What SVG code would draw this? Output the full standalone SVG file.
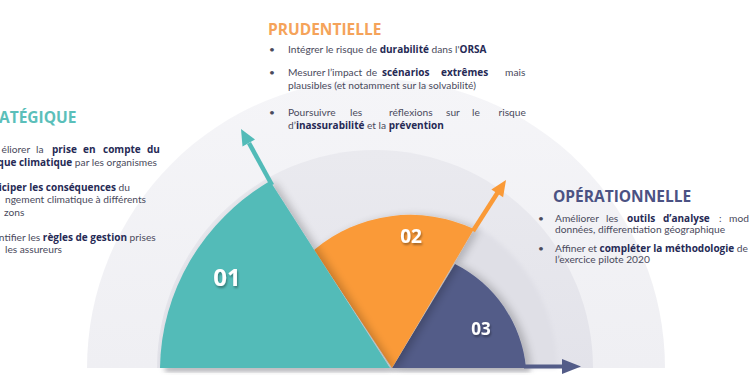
<svg xmlns="http://www.w3.org/2000/svg" width="750" height="375" viewBox="0 0 750 375">
<defs>
<style>
.t{font-family:Lato,"Open Sans","Liberation Sans",sans-serif;font-size:10.2px;fill:#4a4a5c}
.b{font-family:"Open Sans","Liberation Sans",sans-serif;font-size:10px;font-weight:bold;fill:#262a55}
.title{font-family:"Open Sans","Liberation Sans",sans-serif;font-size:15.5px;font-weight:bold}
.num{font-family:"Open Sans","Liberation Sans",sans-serif;font-weight:bold;fill:#ffffff;text-anchor:middle}
</style>
<filter id="sh" x="-20%" y="-20%" width="150%" height="140%">
<feGaussianBlur in="SourceAlpha" stdDeviation="4"/>
<feOffset dx="5" dy="1" result="o"/>
<feComponentTransfer><feFuncA type="linear" slope="0.22"/></feComponentTransfer>
<feMerge><feMergeNode/><feMergeNode in="SourceGraphic"/></feMerge>
</filter>
<filter id="tsh" x="-30%" y="-30%" width="160%" height="160%">
<feGaussianBlur in="SourceAlpha" stdDeviation="1"/>
<feOffset dx="1" dy="1.5"/>
<feComponentTransfer><feFuncA type="linear" slope="0.35"/></feComponentTransfer>
<feMerge><feMergeNode/><feMergeNode in="SourceGraphic"/></feMerge>
</filter>
<filter id="blur2"><feGaussianBlur stdDeviation="2"/></filter>
<linearGradient id="gOuter" x1="0" y1="0" x2="0" y2="1">
<stop offset="0" stop-color="#f5f5f8"/><stop offset="1" stop-color="#efeff3"/>
</linearGradient>
<linearGradient id="gMid" x1="0" y1="0" x2="0" y2="1">
<stop offset="0" stop-color="#eaeaef"/><stop offset="1" stop-color="#e3e3ea"/>
</linearGradient>
</defs>
<rect width="750" height="375" fill="#ffffff"/>

<g id="background-rings">
<path d="M87,368 A289,289 0 0,1 665,368 Z" fill="url(#gOuter)"/>
<path d="M157,368 A218,218 0 0,1 593,368 Z" fill="url(#gMid)"/>
<path d="M392,368 L476,226 A165,165 0 0,1 557,368 Z" fill="#dfdfe6" filter="url(#blur2)"/>
<rect x="165" y="367" width="365" height="5" fill="#8a8a95" opacity="0.45" filter="url(#blur2)"/>
</g>

<g id="node-03">
<path d="M392,368 L455,264 A130,130 0 0,1 526,368 Z" fill="#535c88" filter="url(#sh)"/>
<text class="num" x="481" y="335" font-size="17" filter="url(#tsh)">03</text>
</g>
<g id="node-02">
<path d="M392,368 L314,250 A150,150 0 0,1 474,229 Z" fill="#fa9a37" filter="url(#sh)"/>
<text class="num" x="411" y="242.5" font-size="19" filter="url(#tsh)">02</text>
</g>
<g id="node-01">
<path d="M390,368 L160,368 A229,222 0 0,1 270,181 Z" fill="#52bbb8" filter="url(#sh)"/>
<text class="num" x="227" y="285.5" font-size="24" filter="url(#tsh)">01</text>
</g>

<g id="connectors">
<line x1="272" y1="185" x2="249" y2="143" stroke="#52bbb8" stroke-width="4.5"/>
<polygon points="241,129 255,139.6 242.5,146.6" fill="#52bbb8"/>
<line x1="473" y1="231" x2="498" y2="192" stroke="#fa9a37" stroke-width="4.5"/>
<polygon points="506,180 503.1,197.2 491.4,189.6" fill="#fa9a37"/>
<line x1="524" y1="366.5" x2="565" y2="366.5" stroke="#535c88" stroke-width="4"/>
<polygon points="581,366.5 562,359 562,374" fill="#535c88"/>
</g>

<g id="node-strategique">
<text class="title" x="-1" y="123" fill="#5bbfba">ATÉGIQUE</text>
<text class="t" y="153.3"><tspan x="1.5">éliorer</tspan><tspan x="36">la</tspan><tspan class="b" x="52">prise</tspan><tspan class="b" x="83">en</tspan><tspan class="b" x="103">compte</tspan><tspan class="b" x="147">du</tspan></text>
<text class="t" x="157" y="165.5" text-anchor="end"><tspan class="b">que climatique</tspan> par les organismes</text>
<text class="t" x="130" y="190.7" text-anchor="end"><tspan class="b">iciper les conséquences</tspan> du</text>
<text class="t" x="146" y="202.7" text-anchor="end">ngement climatique à différents</text>
<text class="t" x="4" y="215.5">zons</text>
<text class="t" x="155.7" y="240.7" text-anchor="end">ntifier les <tspan class="b">règles de gestion</tspan> prises</text>
<text class="t" x="5" y="253.3">les assureurs</text>
</g>

<g id="node-prudentielle">
<text class="title" x="268" y="35" fill="#f5a35a">PRUDENTIELLE</text>
<text class="t" x="269" y="52.7">•</text>
<text class="t" x="288" y="52.7">Intégrer le risque de <tspan class="b">durabilité</tspan> dans l'<tspan class="b">ORSA</tspan></text>
<text class="t" x="269" y="75.7">•</text>
<text class="t" y="75.7"><tspan x="288">Mesurer</tspan><tspan x="327.5">l’impact</tspan><tspan x="366">de</tspan><tspan class="b" x="382">scénarios</tspan><tspan class="b" x="441">extrêmes</tspan><tspan x="505">mais</tspan></text>
<text class="t" x="288" y="89.3">plausibles (et notamment sur la solvabilité)</text>
<text class="t" x="269" y="116">•</text>
<text class="t" y="116"><tspan x="288">Poursuivre</tspan><tspan x="350">les</tspan><tspan x="389">réflexions</tspan><tspan x="446">sur</tspan><tspan x="472">le</tspan><tspan x="498.5">risque</tspan></text>
<text class="t" x="288" y="129">d’<tspan class="b">inassurabilité</tspan> et la <tspan class="b">prévention</tspan></text>
</g>

<g id="node-operationnelle">
<text class="title" x="553" y="202" fill="#4b5283">OPÉRATIONNELLE</text>
<text class="t" x="538" y="221.7">•</text>
<text class="t" y="221.7"><tspan x="555">Améliorer</tspan><tspan x="606">les</tspan><tspan class="b" x="627">outils</tspan><tspan class="b" x="663">d’analyse</tspan><tspan x="719">:</tspan><tspan x="729">mod</tspan></text>
<text class="t" x="555" y="233.3">données, differentiation géographique</text>
<text class="t" x="538" y="251.7">•</text>
<text class="t" x="555" y="251.7">Affiner et <tspan class="b">compléter la méthodologie</tspan> de</text>
<text class="t" x="555" y="263.3">l’exercice pilote 2020</text>
</g>
</svg>
